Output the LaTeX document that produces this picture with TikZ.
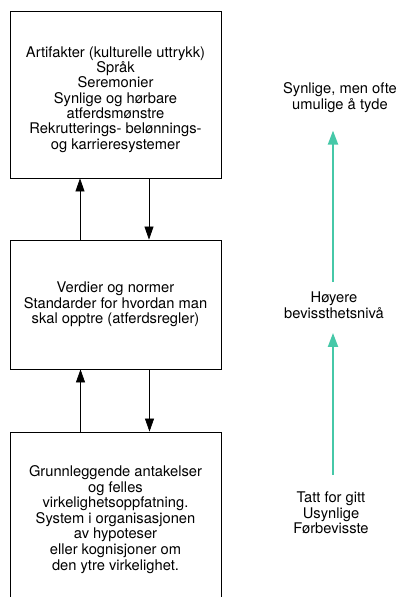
\documentclass[tikz,border=0pt]{standalone}
\usepackage{fontspec}
\setmainfont{TeX Gyre Heros}
\usetikzlibrary{arrows.meta,positioning}
\definecolor{turkis}{RGB}{70,200,168}

\begin{document}
\begin{tikzpicture}[x=1pt,y=-1pt,node distance=210pt,on grid,
   lag/.style={draw,line width=0.8pt,align=center,inner sep=0pt,
      minimum width=211pt,font=\fontsize{14.7}{15.6}\selectfont},
   tekst/.style={align=center,inner sep=0pt,font=\fontsize{14.7}{15.6}\selectfont},
   pil/.style={-{Triangle[width=9pt,length=13pt]},line width=0.7pt},
   gronn/.style={-{Triangle[width=10pt,length=14pt]},line width=2pt,draw=turkis,color=turkis}]
   \clip (0,0) rectangle (398,597);
   \node[lag,minimum height=167pt,font=\fontsize{14.7}{15.3}\selectfont] (art) at (115.5,94.5)
      {\mbox{}\\[5.4pt]Artifakter (kulturelle uttrykk)\\Språk\\Seremonier\\Synlige og hørbare\\atferdsmønstre\\Rekrutterings- belønnings-\\og karrieresystemer};
   \node[lag,minimum height=129pt] (verd) [below=of art]
      {Verdier og normer\\Standarder for hvordan man\\skal opptre (atferdsregler)};
   \node[lag,minimum height=175pt] (grunn) [below=215pt of verd]
      {Grunnleggende antakelser\\og felles\\virkelighetsoppfatning.\\System i organisasjonen\\av hypoteser\\eller kognisjoner om\\den ytre virkelighet.};
   \draw[pil] ([xshift=-35.5pt]verd.north) -- ([xshift=-35.5pt]art.south);
   \draw[pil] ([xshift=33.5pt]art.south) -- ([xshift=33.5pt]verd.north);
   \draw[pil] ([xshift=-35pt]grunn.north) -- ([xshift=-35pt]verd.south);
   \draw[pil] ([xshift=34pt]verd.south) -- ([xshift=34pt]grunn.north);
   % hoyre side
   \node[tekst] (synlig) at (340,97.5) {Synlige, men ofte\\umulige å tyde};
   \node[tekst] (hoyere) at (334,305.5) {Høyere\\bevissthetsnivå};
   \node[tekst] (tatt) at (331,513) {Tatt for gitt\\Usynlige\\Førbevisste};
   \draw[gronn,shorten <=10pt,shorten >=18pt] ([xshift=-1pt]hoyere.north) -- ([xshift=-7pt]synlig.south);
   \draw[gronn,shorten <=17pt,shorten >=14pt] ([xshift=2pt]tatt.north) -- ([xshift=-1pt]hoyere.south);
\end{tikzpicture}
\end{document}
